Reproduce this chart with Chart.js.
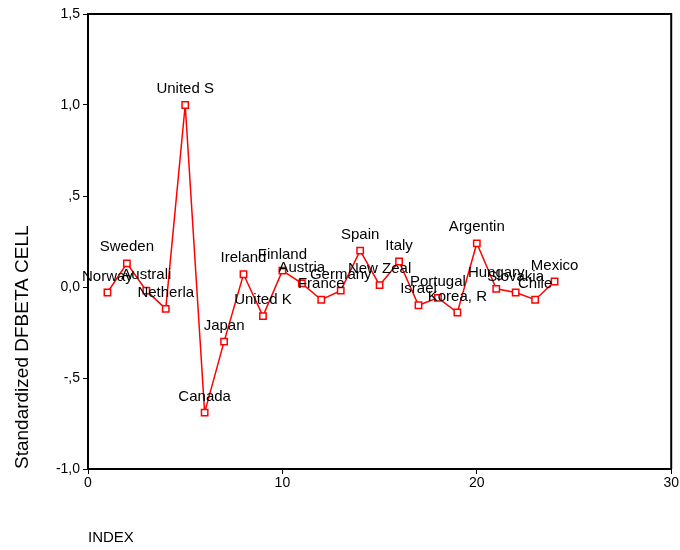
<!DOCTYPE html>
<html>
<head>
<meta charset="utf-8">
<script src="https://cdn.jsdelivr.net/npm/chart.js@4.4.1/dist/chart.umd.min.js"></script>
<style>
  html, body { margin: 0; padding: 0; background: #fff; }
  #wrap { width: 680px; height: 550px; }
</style>
</head>
<body>
<div id="wrap"><canvas id="c" width="680" height="550"></canvas></div>
<script>
// Case index and country label (8-character names) for each case
const caseIndex = [1, 2, 3, 4, 5, 6, 7, 8, 9, 10, 11, 12, 13, 14, 15, 16, 17, 18, 19, 20, 21, 22, 23, 24];
const caseLabels = ["Norway", "Sweden", "Australi", "Netherla", "United S", "Canada", "Japan", "Ireland",
  "United K", "Finland", "Austria", "France", "Germany", "Spain", "New Zeal", "Italy",
  "Israel", "Portugal", "Korea, R", "Argentin", "Hungary", "Slovakia", "Chile", "Mexico"];
// Standardized DFBETA for CELL
const dfbetaCell = [-0.03, 0.13, -0.02, -0.12, 1.00, -0.69, -0.30, 0.07,
  -0.16, 0.09, 0.02, -0.07, -0.02, 0.20, 0.01, 0.14,
  -0.10, -0.06, -0.14, 0.24, -0.01, -0.03, -0.07, 0.03];

const FONT = "'Liberation Sans', Arial, Helvetica, sans-serif";

// comma decimal tick labels without leading zero: 1,5  ,5  0,0  -,5
function fmtTick(v) {
  const r = Math.round(v * 10) / 10;
  if (r === 0) return "0,0";
  let s = Math.abs(r).toFixed(1).replace(".", ",");
  if (s.startsWith("0,")) s = s.slice(1);
  return (r < 0 ? "-" : "") + s;
}

// frame around the plot area plus a text label above each case point
const caseLabelPlugin = {
  id: "caseLabels",
  afterDatasetsDraw(chart) {
    const ctx = chart.ctx;
    const area = chart.chartArea;
    ctx.save();
    ctx.strokeStyle = "#000";
    ctx.lineWidth = 2;
    ctx.beginPath();
    ctx.moveTo(area.left, area.top);
    ctx.lineTo(area.right, area.top);
    ctx.lineTo(area.right, area.bottom);
    ctx.stroke();

    const meta = chart.getDatasetMeta(0);
    ctx.font = "15px " + FONT;
    ctx.fillStyle = "#000";
    ctx.textAlign = "center";
    ctx.textBaseline = "middle";
    meta.data.forEach((pt, i) => {
      ctx.fillText(caseLabels[i], pt.x, pt.y - 16);
    });
    ctx.restore();
  }
};

new Chart(document.getElementById("c"), {
  type: "line",
  data: {
    datasets: [{
      data: caseIndex.map((x, i) => ({ x: x, y: dfbetaCell[i] })),
      borderColor: "#ff0000",
      borderWidth: 1.5,
      pointStyle: "rect",
      pointRadius: 4.5,
      pointBorderWidth: 1.5,
      pointBorderColor: "#ff0000",
      pointBackgroundColor: "#ffffff",
      tension: 0,
      fill: false
    }]
  },
  options: {
    responsive: false,
    animation: false,
    events: [],
    layout: { padding: { top: 14, right: 8, left: 0, bottom: 0 } },
    plugins: { legend: { display: false }, tooltip: { enabled: false } },
    scales: {
      x: {
        type: "linear",
        min: 0, max: 30,
        afterFit(scale) { scale.height = 81; },
        ticks: { stepSize: 10, color: "#000", font: { family: FONT, size: 14 }, padding: 1, maxRotation: 0 },
        grid: { display: true, drawOnChartArea: false, drawTicks: true, tickLength: 5, color: "#000", lineWidth: 1 },
        border: { display: true, color: "#000", width: 2 },
        title: { display: true, text: "INDEX", align: "start", color: "#000",
          font: { family: FONT, size: 15 }, padding: { top: 0, bottom: 3 } }
      },
      y: {
        type: "linear",
        min: -1, max: 1.5,
        afterFit(scale) { scale.width = 88; },
        ticks: { stepSize: 0.5, color: "#000", font: { family: FONT, size: 14 }, padding: 3,
          callback: (v) => fmtTick(v) },
        grid: { display: true, drawOnChartArea: false, drawTicks: true, tickLength: 5, color: "#000", lineWidth: 1 },
        border: { display: true, color: "#000", width: 2 },
        title: { display: true, text: "Standardized DFBETA CELL", align: "start", color: "#000",
          font: { family: FONT, size: 19 }, padding: { top: 11, bottom: 0 } }
      }
    }
  },
  plugins: [caseLabelPlugin]
});
</script>
</body>
</html>
